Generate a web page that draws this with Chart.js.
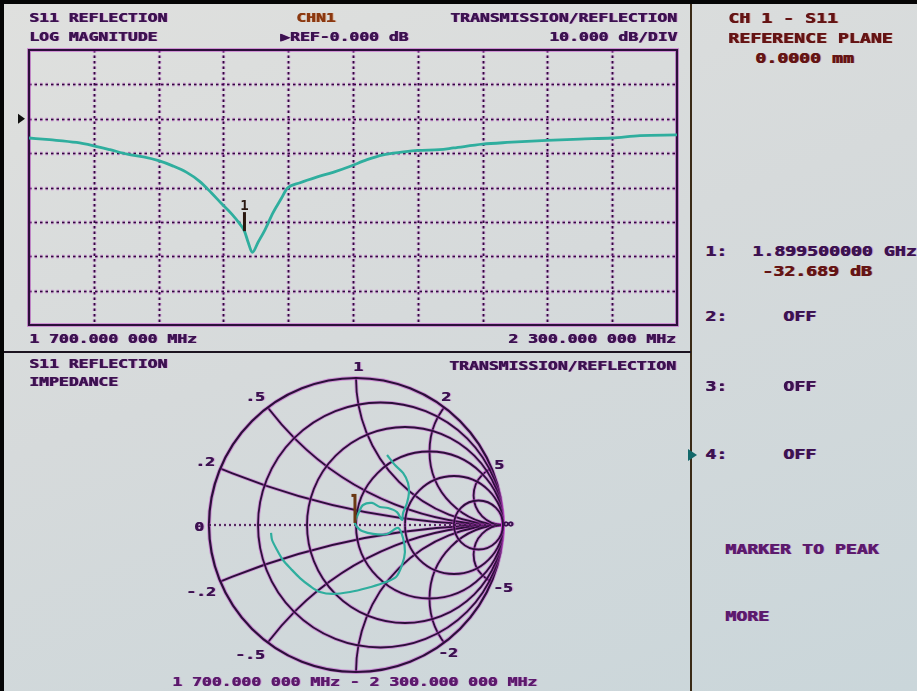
<!DOCTYPE html>
<html>
<head>
<meta charset="utf-8">
<script src="https://cdn.jsdelivr.net/npm/chart.js@4.4.1/dist/chart.umd.min.js"></script>
<style>
  html, body { margin: 0; padding: 0; }
  body {
    width: 917px; height: 691px; position: relative; overflow: hidden;
    background: linear-gradient(160deg, #dfe0de 0%, #d6dadb 45%, #cad6da 100%);
  }
  canvas { position: absolute; }
  .bar { position: absolute; background: #050505; }
  .t {
    position: absolute; white-space: pre;
    font: bold 13px "DejaVu Sans Mono", monospace; line-height: 13px;
    transform: scaleX(1.26); transform-origin: 0 0;
    color: #3c1250;
    text-shadow: 0.6px 0 0 currentColor, 1.4px 0 0 rgba(200, 80, 210, 0.4);
  }
  .s { font-size: 14px; line-height: 14px; transform: scaleX(1.3); }
  .red { color: #641414; text-shadow: 0.6px 0 0 currentColor, 1.4px 0 0 rgba(200, 80, 80, 0.35); }
  .org { color: #8a3810; text-shadow: 0.6px 0 0 currentColor, 1.4px 0 0 rgba(220, 120, 60, 0.4); }
  .mag { color: #5c1a6c; }
  .arrow4 {
    position: absolute; left: 688px; top: 449px; width: 0; height: 0;
    border-top: 6px solid transparent; border-bottom: 6px solid transparent;
    border-left: 9px solid #12686a;
  }
</style>
</head>
<body>
<div class="bar" style="left:0;top:0;width:917px;height:4px"></div>
<div class="bar" style="left:0;top:0;width:4px;height:691px"></div>
<div class="bar" style="left:690px;top:4px;width:2px;height:687px;background:#3a2a16"></div>
<div class="bar" style="left:4px;top:351px;width:687px;height:2px;background:#1c1420"></div>

<canvas id="logmag" width="692" height="350" style="left:0;top:0"></canvas>
<canvas id="smith" width="392" height="335" style="left:160px;top:355px"></canvas>

<!-- upper trace annotation -->
<div class="t" style="left:29px;top:11px">S11 REFLECTION</div>
<div class="t" style="left:29px;top:30px">LOG MAGNITUDE</div>
<div class="t org" style="left:296px;top:11px">CHN1</div>
<div class="t" style="left:280px;top:30px">▶REF-0.000 dB</div>
<div class="t" style="left:450px;top:11px">TRANSMISSION/REFLECTION</div>
<div class="t" style="left:549px;top:30px">10.000 dB/DIV</div>
<div class="t" style="left:29px;top:332px">1 700.000 000 MHz</div>
<div class="t" style="left:508px;top:332px">2 300.000 000 MHz</div>

<!-- lower trace annotation -->
<div class="t" style="left:29px;top:357px">S11 REFLECTION</div>
<div class="t" style="left:29px;top:375px">IMPEDANCE</div>
<div class="t" style="left:449px;top:359px">TRANSMISSION/REFLECTION</div>
<div class="t mag" style="left:172px;top:675px">1 700.000 000 MHz - 2 300.000 000 MHz</div>

<!-- smith chart scale labels -->
<div class="t" style="left:353px;top:359.5px">1</div>
<div class="t" style="left:245px;top:389.5px">.5</div>
<div class="t" style="left:195px;top:454.5px">.2</div>
<div class="t" style="left:194px;top:519.5px">0</div>
<div class="t" style="left:186px;top:584.5px">-.2</div>
<div class="t" style="left:235px;top:647.5px">-.5</div>
<div class="t" style="left:441px;top:389.5px">2</div>
<div class="t" style="left:494px;top:457.5px">5</div>
<div class="t" style="left:503px;top:516.5px">∞</div>
<div class="t" style="left:493px;top:580.5px">-5</div>
<div class="t" style="left:438px;top:645.5px">-2</div>

<!-- marker / softkey panel -->
<div class="t s red" style="left:728px;top:11.3px">CH 1 - S11</div>
<div class="t s red" style="left:728px;top:31.3px">REFERENCE PLANE</div>
<div class="t s red" style="left:755px;top:51.3px">0.0000 mm</div>
<div class="t s" style="left:705px;top:244px">1:</div>
<div class="t s" style="left:752px;top:244px">1.899500000 GHz</div>
<div class="t s red" style="left:762px;top:264px">-32.689 dB</div>
<div class="t s" style="left:705px;top:309px">2:</div>
<div class="t s" style="left:783px;top:309px">OFF</div>
<div class="t s" style="left:705px;top:378.5px">3:</div>
<div class="t s" style="left:783px;top:378.5px">OFF</div>
<div class="arrow4"></div>
<div class="t s" style="left:705px;top:446.5px">4:</div>
<div class="t s" style="left:783px;top:446.5px">OFF</div>
<div class="t s mag" style="left:725px;top:541.5px">MARKER TO PEAK</div>
<div class="t s mag" style="left:725px;top:608.5px">MORE</div>

<script>
// sweep settings
const startMHz = 1700;
const stopMHz = 2300;
const refLevelDb = 0;
const dbPerDiv = 10;

// S11 log magnitude over the sweep
const freqMHz = [1700, 1719, 1744, 1759, 1775, 1791, 1806, 1820, 1833, 1846, 1858, 1869, 1878,
  1888, 1895, 1899.5, 1903, 1906.8, 1912, 1918.5, 1926, 1934, 1939, 1951, 1967, 1981.5, 1997,
  2013, 2028, 2043.5, 2060, 2080, 2093, 2120, 2142.6, 2179.6, 2210, 2239.8, 2265.7, 2300];
const s11dB = [-5.6, -6.1, -6.9, -7.8, -9.0, -10.3, -11.1, -12.2, -13.7, -15.6, -18.2, -21.6, -24.6,
  -27.8, -30.5, -32.689, -36.0, -38.9, -36.0, -32.3, -27.3, -23.0, -20.3, -18.6, -16.9, -15.6, -13.9,
  -11.9, -10.5, -9.8, -9.2, -9.0, -8.5, -7.4, -6.9, -6.3, -5.9, -5.6, -4.9, -4.7];

// marker 1
const markerFreqMHz = 1899.5;
const markerDb = -32.689;

// same sweep as reflection coefficient (real, imaginary)
const gammaRe = [0.211, 0.265, 0.320, 0.354, 0.360, 0.347, 0.320, 0.313, 0.279, 0.218, 0.163, 0.109,
  0.048, 0.020, -0.007, 0.014, 0.041, 0.116, 0.211, 0.286, 0.320, 0.333, 0.313, 0.272, 0.184,
  0.075, -0.041, -0.156, -0.245, -0.313, -0.381, -0.442, -0.497, -0.537, -0.571, -0.578];
const gammaIm = [0.476, 0.408, 0.354, 0.286, 0.218, 0.150, 0.082, 0.034, 0.088, 0.116, 0.122, 0.150,
  0.136, 0.088, 0.014, -0.020, -0.041, -0.061, -0.061, -0.020, -0.088, -0.184, -0.272, -0.354, -0.395,
  -0.429, -0.456, -0.469, -0.456, -0.415, -0.361, -0.299, -0.238, -0.170, -0.102, -0.054];
const smithMarkerIndex = 14;

// smith chart grid
const resistanceCircles = [0.2, 0.5, 1, 2, 5];
const reactanceArcs = [0.2, 0.5, 1, 2, 5];

const traceColor = '#2fae9e';

// phosphor-style line: magenta halo under a dark purple stroke
function crtStroke(ctx, build, dash, width) {
  ctx.setLineDash(dash || []);
  ctx.lineWidth = (width || 1.8) + 1.8;
  ctx.strokeStyle = 'rgba(196, 70, 206, 0.5)';
  ctx.beginPath(); build(); ctx.stroke();
  ctx.lineWidth = width || 1.8;
  ctx.strokeStyle = '#2c0f3a';
  ctx.beginPath(); build(); ctx.stroke();
}

const logGrid = {
  id: 'logGrid',
  beforeDatasetsDraw(chart) {
    const { ctx, chartArea: a, scales: { x, y } } = chart;
    ctx.save();
    const step = (stopMHz - startMHz) / 10;
    for (let i = 1; i < 10; i++) {
      const px = Math.round(x.getPixelForValue(startMHz + i * step)) + 0.5;
      crtStroke(ctx, () => { ctx.moveTo(px, a.top); ctx.lineTo(px, a.bottom); }, [2.5, 3], 1.7);
    }
    for (let v = y.min + dbPerDiv; v < y.max; v += dbPerDiv) {
      const py = Math.round(y.getPixelForValue(v)) + 0.5;
      crtStroke(ctx, () => { ctx.moveTo(a.left, py); ctx.lineTo(a.right, py); }, [2.5, 3], 1.7);
    }
    crtStroke(ctx, () => ctx.rect(a.left, a.top, a.right - a.left, a.bottom - a.top), [], 2.2);
    ctx.restore();
  },
  afterDatasetsDraw(chart) {
    const { ctx, scales: { x, y } } = chart;
    ctx.save();
    // reference level pointer
    const ry = y.getPixelForValue(refLevelDb);
    ctx.fillStyle = '#101010';
    ctx.beginPath();
    ctx.moveTo(18, ry - 5); ctx.lineTo(25, ry); ctx.lineTo(18, ry + 5); ctx.closePath();
    ctx.fill();
    // marker 1
    const mx = x.getPixelForValue(markerFreqMHz);
    const my = y.getPixelForValue(markerDb);
    ctx.fillStyle = '#2a1810';
    ctx.fillRect(mx - 1.5, my - 19, 3, 19);
    ctx.font = 'bold 14px "DejaVu Sans Mono"';
    ctx.textAlign = 'center';
    ctx.textBaseline = 'bottom';
    ctx.fillText('1', mx, my - 18);
    ctx.restore();
  }
};

new Chart(document.getElementById('logmag'), {
  type: 'line',
  data: {
    datasets: [{
      data: freqMHz.map((f, i) => ({ x: f, y: s11dB[i] })),
      borderColor: traceColor,
      borderWidth: 2.8,
      pointRadius: 0,
      cubicInterpolationMode: 'monotone'
    }]
  },
  options: {
    responsive: false,
    animation: false,
    layout: { padding: { left: 29, top: 50, right: 15, bottom: 25 } },
    scales: {
      x: { type: 'linear', display: false, min: startMHz, max: stopMHz },
      y: { display: false, min: refLevelDb - 6 * dbPerDiv, max: refLevelDb + 2 * dbPerDiv }
    },
    plugins: { legend: { display: false }, tooltip: { enabled: false } }
  },
  plugins: [logGrid]
});

const smithGrid = {
  id: 'smithGrid',
  beforeDatasetsDraw(chart) {
    const { ctx, scales: { x, y } } = chart;
    const cx = x.getPixelForValue(0);
    const cy = y.getPixelForValue(0);
    const R = x.getPixelForValue(1) - cx;
    ctx.save();

    // reactance arcs, kept inside the unit circle
    ctx.save();
    ctx.beginPath();
    ctx.arc(cx, cy, R + 0.5, 0, Math.PI * 2);
    ctx.clip();
    reactanceArcs.forEach((xv) => {
      [1, -1].forEach((sign) => {
        const acx = x.getPixelForValue(1);
        const acy = y.getPixelForValue(sign / xv);
        crtStroke(ctx, () => ctx.arc(acx, acy, R / xv, 0, Math.PI * 2));
      });
    });
    ctx.restore();

    // constant resistance circles and the outer rim
    [0, ...resistanceCircles].forEach((r) => {
      const ccx = x.getPixelForValue(r / (1 + r));
      crtStroke(ctx, () => ctx.arc(ccx, cy, R / (1 + r), 0, Math.PI * 2), [], r === 0 ? 2.2 : 1.8);
    });

    // real axis
    crtStroke(ctx, () => { ctx.moveTo(cx - R, cy); ctx.lineTo(cx + R, cy); }, [2, 3], 1.3);
    ctx.restore();
  },
  afterDatasetsDraw(chart) {
    const { ctx, scales: { x, y } } = chart;
    const mx = x.getPixelForValue(gammaRe[smithMarkerIndex]);
    const my = y.getPixelForValue(gammaIm[smithMarkerIndex]);
    ctx.save();
    ctx.fillStyle = '#6a3812';
    ctx.fillRect(mx - 1.5, my - 29, 3, 29);
    ctx.fillRect(mx - 3.5, my - 29, 3, 3);
    ctx.restore();
  }
};

new Chart(document.getElementById('smith'), {
  type: 'scatter',
  data: {
    datasets: [{
      data: gammaRe.map((re, i) => ({ x: re, y: gammaIm[i] })),
      showLine: true,
      borderColor: traceColor,
      borderWidth: 2.2,
      pointRadius: 0,
      tension: 0.3
    }]
  },
  options: {
    responsive: false,
    animation: false,
    layout: { padding: { left: 49, top: 23, right: 49, bottom: 18 } },
    scales: {
      x: { type: 'linear', display: false, min: -1, max: 1 },
      y: { type: 'linear', display: false, min: -1, max: 1 }
    },
    plugins: { legend: { display: false }, tooltip: { enabled: false } }
  },
  plugins: [smithGrid]
});
</script>
</body>
</html>
